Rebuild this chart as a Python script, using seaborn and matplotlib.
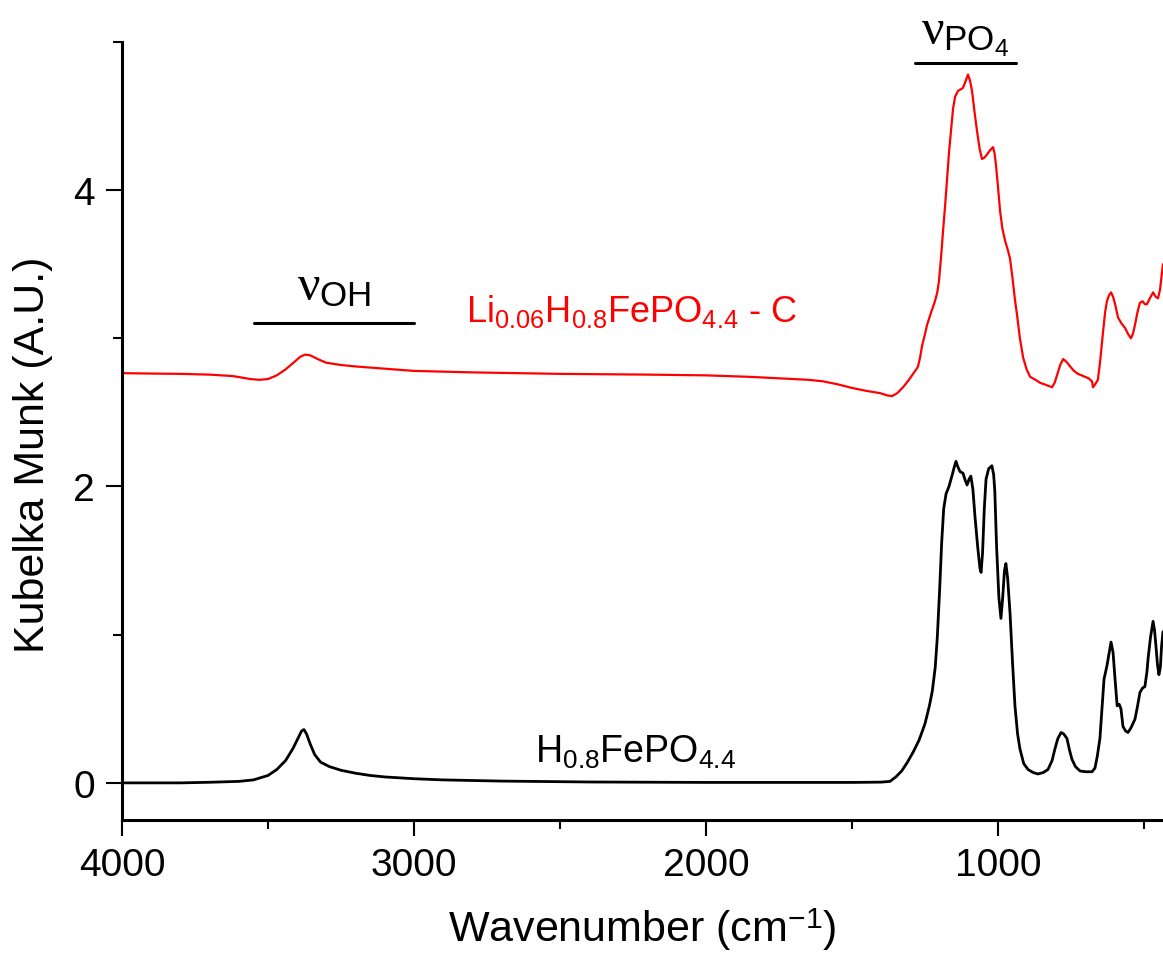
import numpy as np
import pandas as pd
import matplotlib
matplotlib.use("Agg")
import matplotlib.pyplot as plt
import seaborn as sns
from matplotlib.ticker import MultipleLocator

# ---- data ----
wn_black = [4000, 3800, 3700, 3600, 3550, 3500, 3470, 3440, 3415, 3395, 3385, 3377, 3368, 3355, 3340,
            3320, 3290, 3250, 3200, 3150, 3100, 3000, 2900, 2700, 2400, 2000, 1700, 1500, 1400, 1370,
            1350, 1330, 1310, 1290, 1270, 1250, 1235, 1225, 1215, 1208, 1200, 1193, 1186, 1178, 1168,
            1158, 1150, 1144, 1137, 1130, 1120, 1112, 1106, 1099, 1093, 1086, 1079, 1070, 1062, 1058,
            1053, 1047, 1041, 1032, 1021, 1015, 1011, 1005, 997, 990, 984, 978, 973, 967, 959, 950,
            942, 933, 925, 912, 897, 880, 863, 845, 829, 815, 805, 795, 784, 775, 764, 755, 747, 735,
            719, 700, 678, 668, 660, 651, 644, 637, 627, 620, 613, 606, 600, 592, 585, 579, 572, 563,
            555, 545, 531, 522, 514, 505, 497, 490, 486, 478, 469, 464, 459, 454, 449, 444, 440, 435]
kubelka_black = [0.0, 0.0, 0.004, 0.01, 0.02, 0.05, 0.09, 0.15, 0.23, 0.31, 0.35, 0.36, 0.33, 0.26, 0.19,
                 0.14, 0.11, 0.085, 0.065, 0.05, 0.04, 0.028, 0.02, 0.012, 0.006, 0.003, 0.003, 0.003, 0.005, 0.01,
                 0.04, 0.08, 0.14, 0.21, 0.29, 0.40, 0.52, 0.62, 0.78, 0.98, 1.30, 1.62, 1.85, 1.95, 2.00,
                 2.07, 2.13, 2.17, 2.13, 2.10, 2.09, 2.04, 2.01, 2.05, 2.07, 1.98, 1.80, 1.60, 1.45, 1.42,
                 1.55, 1.85, 2.05, 2.12, 2.14, 2.08, 1.97, 1.60, 1.25, 1.11, 1.25, 1.43, 1.48, 1.38, 1.15, 0.80,
                 0.52, 0.33, 0.23, 0.13, 0.09, 0.07, 0.06, 0.07, 0.09, 0.15, 0.23, 0.30, 0.34, 0.33, 0.30, 0.22, 0.16, 0.11,
                 0.08, 0.075, 0.075, 0.10, 0.18, 0.30, 0.50, 0.70, 0.79, 0.87, 0.95, 0.88, 0.72, 0.52, 0.53, 0.50, 0.38, 0.35,
                 0.34, 0.37, 0.43, 0.52, 0.61, 0.64, 0.65, 0.75, 0.84, 0.98, 1.09, 1.03, 0.92, 0.80, 0.73, 0.78, 0.92, 1.02]

wn_red = [4000, 3900, 3800, 3700, 3620, 3560, 3530, 3500, 3470, 3440, 3410, 3390, 3373, 3355, 3330,
          3300, 3250, 3200, 3100, 3000, 2800, 2500, 2200, 2000, 1850, 1750, 1650, 1600, 1550, 1500,
          1450, 1404, 1380, 1363, 1345, 1325, 1305, 1291, 1280, 1274, 1267, 1260, 1250, 1243, 1230,
          1216, 1208, 1202, 1195, 1188, 1181, 1175, 1168, 1161, 1154, 1147, 1137, 1128, 1120, 1110,
          1103, 1096, 1089, 1080, 1072, 1063, 1055, 1046, 1038, 1027, 1017, 1012, 1007, 1000, 993,
          985, 976, 967, 959, 950, 942, 935, 925, 914, 902, 890, 872, 856, 835, 815, 806, 798, 787,
          777, 765, 753, 740, 726, 702, 690, 678, 675, 667, 658, 650, 640, 633, 627, 620, 613, 606,
          599, 589, 577, 565, 555, 545, 538, 531, 522, 514, 505, 497, 490, 480, 469, 460, 452, 445,
          440, 435]
kubelka_red = [2.765, 2.762, 2.76, 2.755, 2.745, 2.725, 2.72, 2.725, 2.75, 2.79, 2.84, 2.875, 2.89, 2.885, 2.86,
               2.835, 2.82, 2.81, 2.795, 2.78, 2.77, 2.76, 2.755, 2.75, 2.74, 2.73, 2.72, 2.71, 2.69, 2.665,
               2.645, 2.63, 2.615, 2.61, 2.63, 2.67, 2.72, 2.76, 2.79, 2.81, 2.87, 2.95, 3.03, 3.09, 3.17,
               3.25, 3.31, 3.39, 3.55, 3.73, 3.90, 4.06, 4.25, 4.40, 4.55, 4.63, 4.67, 4.68, 4.69, 4.74,
               4.78, 4.74, 4.67, 4.52, 4.40, 4.28, 4.21, 4.22, 4.24, 4.27, 4.29, 4.25, 4.17, 4.02, 3.86,
               3.74, 3.66, 3.60, 3.54, 3.40, 3.26, 3.16, 3.00, 2.87, 2.79, 2.74, 2.72, 2.70, 2.685, 2.67, 2.70, 2.75, 2.82,
               2.86, 2.84, 2.81, 2.78, 2.76, 2.74, 2.73, 2.71, 2.67, 2.69, 2.72, 2.85, 3.05, 3.18, 3.25, 3.29, 3.31, 3.28,
               3.23, 3.14, 3.10, 3.07, 3.03, 3.00, 3.03, 3.09, 3.18, 3.24, 3.25, 3.23, 3.23, 3.27, 3.31, 3.28, 3.27, 3.33,
               3.42, 3.50]

sample_black = "H0.8FePO4.4"
sample_red = "Li0.06H0.8FePO4.4 - C"

# annotation bands (wavenumber span, height)
oh_band = [3548, 3000]
oh_level = 3.10
po4_band = [1284, 938]
po4_level = 4.86

x_ticks = [4000, 3000, 2000, 1000]
y_ticks = [0, 2, 4]

# ---- style ----
sns.set_theme(style="ticks")
plt.rcParams['font.family'] = ['Liberation Sans', 'DejaVu Sans']
plt.rcParams['mathtext.fontset'] = 'custom'
plt.rcParams['mathtext.rm'] = 'Liberation Sans'
plt.rcParams['mathtext.it'] = 'Liberation Serif'
plt.rcParams['mathtext.bf'] = 'Liberation Sans:bold'
for k in ['text.color', 'axes.labelcolor', 'xtick.color', 'ytick.color', 'axes.edgecolor']:
    plt.rcParams[k] = 'black'

df = pd.concat([
    pd.DataFrame({"wn": wn_black, "km": kubelka_black, "sample": sample_black}),
    pd.DataFrame({"wn": wn_red, "km": kubelka_red, "sample": sample_red}),
])

fig = plt.figure(figsize=(11.63, 9.54), dpi=100)
ax = fig.add_axes([0.1049, 0.1395, 0.8951, 0.8155])

sns.lineplot(data=df, x="wn", y="km", hue="sample", sort=False, estimator=None,
             palette={sample_black: "black", sample_red: "#ff0000"}, legend=False, ax=ax)
for line, lw in zip(ax.get_lines(), [2.0, 1.6]):
    line.set_linewidth(lw)
    line.set_solid_joinstyle("round")

ax.set_xlim(4000, 435)
ax.set_ylim(-0.25, 5.0)

ax.set_xticks(x_ticks)
ax.set_yticks(y_ticks)
ax.xaxis.set_minor_locator(MultipleLocator(500))
ax.yaxis.set_minor_locator(MultipleLocator(1))

sns.despine(ax=ax)
for s in ["left", "bottom"]:
    ax.spines[s].set_linewidth(2.2)
    ax.spines[s].set_color("black")
ax.tick_params(which="major", direction="out", length=11.5, width=1.5, color="black",
               labelsize=28, pad=8, labelcolor="black")
ax.tick_params(which="minor", direction="out", length=6.5, width=1.5, color="black")

ax.set_xlabel(r"Wavenumber (cm$^{\mathregular{-1}}$)", fontsize=31, labelpad=16)
ax.set_ylabel("Kubelka Munk (A.U.)", fontsize=31)
ax.yaxis.set_label_coords(-0.066, 0.47)

# annotations
ax.plot(oh_band, [oh_level, oh_level], color="black", lw=2.2)
ax.plot(po4_band, [po4_level, po4_level], color="black", lw=2.2)
ax.text(np.mean(oh_band), oh_level + 0.10, r"$\nu_{\mathrm{OH}}$", fontsize=36,
        ha="center", va="bottom")
ax.text(np.mean(po4_band), po4_level + 0.03, r"$\nu_{\mathrm{PO_4}}$", fontsize=36,
        ha="center", va="bottom")
ax.text(2822, 3.19, r"$\mathrm{Li_{0.06}H_{0.8}FePO_{4.4}}$ - C", fontsize=26,
        color="#ff0000", ha="left", va="center")
ax.text(2586, 0.21, r"$\mathrm{H_{0.8}FePO_{4.4}}$", fontsize=27,
        color="black", ha="left", va="center")

fig.savefig("out.png", dpi=100, facecolor="white")
